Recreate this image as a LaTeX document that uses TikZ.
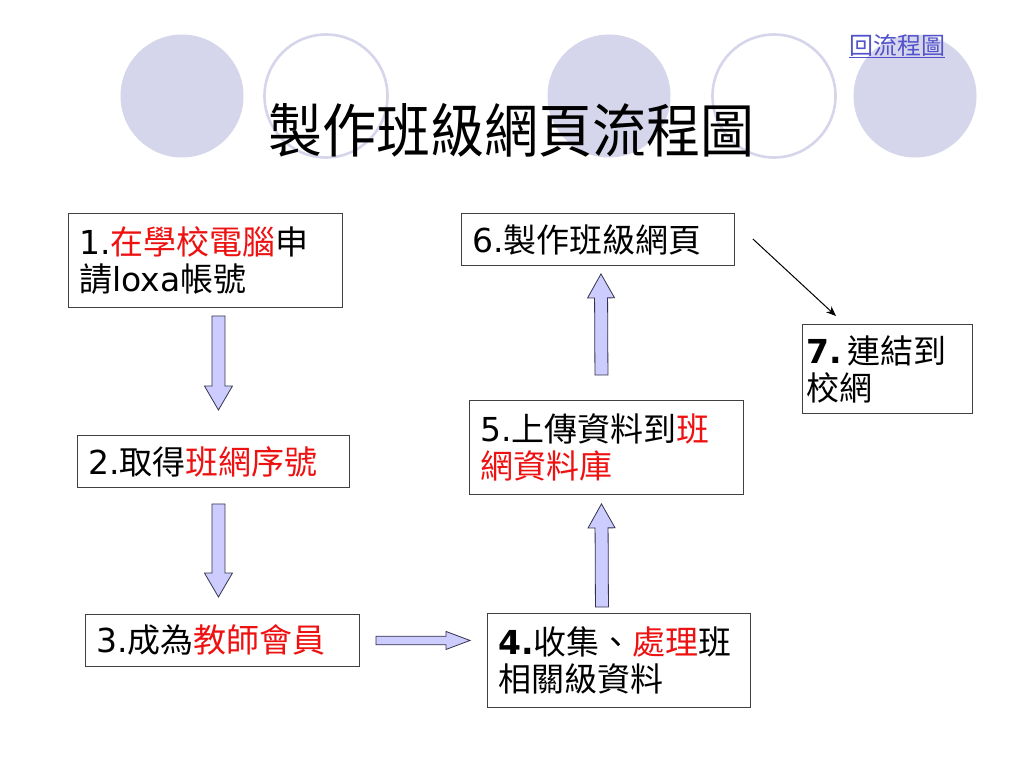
\documentclass[tikz,border=0pt]{standalone}
\usepackage{fontspec}
\setmainfont{Noto Sans CJK TC}
\newfontfamily\vd{DejaVu Sans}
\usetikzlibrary{calc,arrows.meta}
\definecolor{lav}{HTML}{D5D5EB}
\definecolor{arrfill}{HTML}{CCCCFF}
\definecolor{arredge}{HTML}{33334D}
\definecolor{linkblue}{HTML}{5252CC}
\definecolor{txtred}{HTML}{EE1111}
\newcommand\rd[1]{\textcolor{txtred}{#1}}
\newcommand\nm[1]{{\vd #1}}
\newcommand\blockarr[4]{% start, end, shaft half width, head half width
  \coordinate (hb) at ($(#2)!24pt!(#1)$);
  \draw[barrow] ($(#1)!#3!90:(#2)$) -- ($(hb)!#3!90:(#2)$) -- ($(hb)!#4!90:(#2)$) -- (#2)
    -- ($(hb)!#4!-90:(#2)$) -- ($(hb)!#3!-90:(#2)$) -- ($(#1)!#3!-90:(#2)$) -- cycle;}
\begin{document}
\begin{tikzpicture}[x=1pt,y=-1pt,
  deco/.style={circle,minimum size=123pt,inner sep=0pt},
  decofill/.style={deco,fill=lav},
  decoring/.style={deco,draw=lav,line width=2.6pt},
  box/.style={draw=black!75,line width=0.9pt,anchor=north west,align=left,
    inner xsep=11pt,inner ysep=0pt,font=\fontsize{33}{37}\selectfont},
  barrow/.style={fill=arrfill,draw=arredge,line width=0.8pt,line join=miter},
  thinarrow/.style={draw=black,line width=1pt,-{Stealth[length=10pt,width=8pt]}}]
\useasboundingbox[fill=white] (0,0) rectangle (1024,768);
% decorative circles
\node[decofill] (c1) at (182,96) {};
\node[decoring] (c2) at (326,96) {};
\node[decofill] (c3) at (609,96) {};
\node[decoring] (c4) at (774,96) {};
\node[decofill] (c5) at (915,96) {};
% link
\node[text=linkblue,font=\fontsize{24}{26}\selectfont,inner sep=0pt] (link) at (897,46)
  {\underline{回流程圖}};
% title
\node[font=\fontsize{54}{60}\selectfont,inner sep=0pt,yscale=1.08] (title) at (511,130) {製作班級網頁流程圖};
% boxes
\node[box,minimum width=274pt,minimum height=94pt,text width=252pt] (b1) at (68,213)
  {\nm{1.}\rd{在學校電腦}申\\請\nm{loxa}帳號};
\node[box,minimum width=272pt,minimum height=52pt,text width=250pt] (b2) at (77,435)
  {\nm{2.}取得\rd{班網序號}};
\node[box,minimum width=274pt,minimum height=52pt,text width=252pt] (b3) at (85,614)
  {\nm{3.}成為\rd{教師會員}};
\node[box,minimum width=263pt,minimum height=94pt,text width=241pt] (b4) at (487,613)
  {{\vd\bfseries 4.}收集、\rd{處理}班\\相關級資料};
\node[box,minimum width=274pt,minimum height=94pt,text width=252pt] (b5) at (469,400)
  {\nm{5.}上傳資料到\rd{班}\\\rd{網資料庫}};
\node[box,minimum width=273pt,minimum height=52pt,text width=251pt] (b6) at (461,213)
  {\nm{6.}製作班級網頁};
\node[box,minimum width=170pt,minimum height=89pt,text width=162pt,inner xsep=4pt] (b7) at (802,324)
  {{\vd\bfseries 7.}\,連結到\\校網};
% block arrows
\coordinate (a12s) at ($(b1.south)+(13,8)$);
\coordinate (a12e) at ($(b2.north)+(5,-25)$);
\coordinate (a23s) at ($(b2.south)+(5,16)$);
\coordinate (a23e) at ($(b3.north)+(-4,-17)$);
\coordinate (a34s) at ($(b3.east)+(16,0)$);
\coordinate (a34e) at ($(b4.west)+(-17,-20)$);
\coordinate (a45s) at ($(b4.north)+(-17,-6)$);
\coordinate (a45e) at ($(b5.south)+(-5,9)$);
\coordinate (a56s) at ($(b5.north)+(-5,-25)$);
\coordinate (a56e) at ($(b6.south)+(3,8)$);
\blockarr{a12s}{a12e}{6.5pt}{14pt}
\blockarr{a23s}{a23e}{6.5pt}{14pt}
\blockarr{a34s}{a34e}{4.3pt}{9pt}
\blockarr{a45s}{a45e}{6.5pt}{13.5pt}
\blockarr{a56s}{a56e}{6.5pt}{13.5pt}
% thin arrow 6 -> 7
\coordinate (l67s) at ($(b6.north east)+(18,26)$);
\coordinate (l67e) at ($(b7.north west)+(34,-8)$);
\draw[thinarrow] (l67s) -- (l67e);
\end{tikzpicture}
\end{document}
